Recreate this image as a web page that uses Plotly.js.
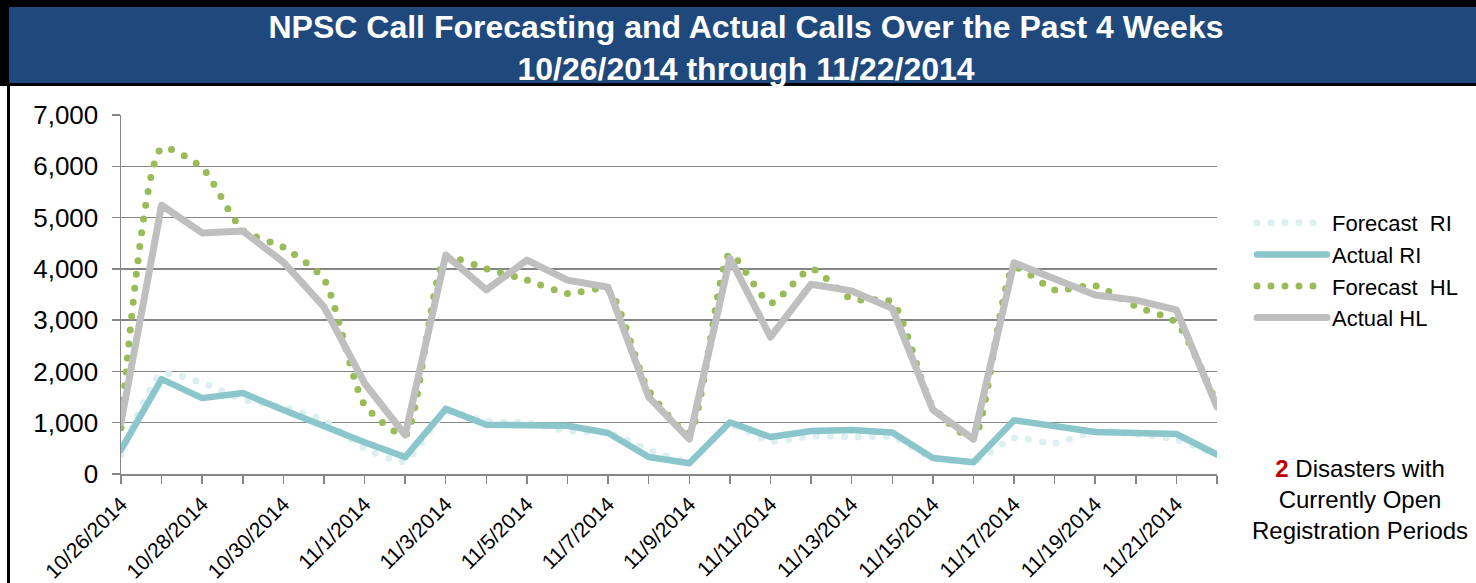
<!DOCTYPE html>
<html>
<head>
<meta charset="utf-8">
<script src="https://cdn.plot.ly/plotly-3.0.1.min.js"></script>
<style>
  html, body { margin: 0; padding: 0; background: #ffffff; }
  #chart { width: 1476px; height: 583px; }
  .js-line { stroke-linecap: round; stroke-linejoin: round; }
</style>
</head>
<body>
<div id="chart"></div>
<script>
// ---- data ----
const categories = ["10/26/2014","10/27/2014","10/28/2014","10/29/2014","10/30/2014","10/31/2014","11/1/2014",
  "11/2/2014","11/3/2014","11/4/2014","11/5/2014","11/6/2014","11/7/2014","11/8/2014",
  "11/9/2014","11/10/2014","11/11/2014","11/12/2014","11/13/2014","11/14/2014","11/15/2014",
  "11/16/2014","11/17/2014","11/18/2014","11/19/2014","11/20/2014","11/21/2014","11/22/2014"];
const forecastRI = [380, 1950, 1780, 1460, 1300, 1050, 500, 250, 1200, 1030, 1000, 840, 800, 470,
  260, 950, 640, 740, 720, 720, 320, 250, 700, 600, 830, 780, 670, 370];
const actualRI = [470, 1850, 1480, 1580, 1250, 920, 620, 330, 1270, 960, 940, 940, 800, 330,
  210, 1010, 720, 840, 860, 810, 310, 230, 1050, 920, 820, 800, 780, 380];
const forecastHL = [900, 6350, 5970, 4750, 4420, 3800, 1350, 760, 4200, 4000, 3780, 3520, 3600, 1630,
  800, 4290, 3330, 4000, 3410, 3350, 1310, 700, 4020, 3590, 3670, 3270, 2950, 1350];
const actualHL = [1000, 5240, 4700, 4740, 4130, 3260, 1770, 760, 4270, 3590, 4170, 3780, 3640, 1500,
  680, 4210, 2670, 3700, 3570, 3230, 1250, 680, 4120, 3820, 3490, 3390, 3200, 1310];
const seriesNames = ["Forecast  RI", "Actual RI", "Forecast  HL", "Actual HL"];
const yTicks = [0, 1000, 2000, 3000, 4000, 5000, 6000, 7000];
const tickLabels = categories.map((c, i) => (i % 2 === 0 ? c : ""));
const titleLines = ["NPSC Call Forecasting and Actual Calls Over the Past 4 Weeks", "10/26/2014 through 11/22/2014"];
const disastersCount = 2;

// ---- layout geometry (pixels) ----
const W = 1476, H = 583;
const L = 121, R = 1217, T = 115, B = 474;
const px = x => (x - L) / (R - L);
const py = y => (B - y) / (B - T);

const FONT = "Liberation Sans, Arial, sans-serif";

const traces = [
  { x: categories, y: forecastRI, name: seriesNames[0], type: "scatter", mode: "lines",
    line: { color: "#DCEFF1", width: 7, dash: "0px,14px", shape: "spline", smoothing: 0.6 } },
  { x: categories, y: actualRI, name: seriesNames[1], type: "scatter", mode: "lines",
    line: { color: "#8BC6CD", width: 6.5 } },
  { x: categories, y: forecastHL, name: seriesNames[2], type: "scatter", mode: "lines",
    line: { color: "#9BBB59", width: 7, dash: "0px,14px", shape: "spline", smoothing: 0.6 } },
  { x: categories, y: actualHL, name: seriesNames[3], type: "scatter", mode: "lines",
    line: { color: "#BFBFBF", width: 7 } }
];

const layout = {
  width: W, height: H,
  margin: { l: L, r: W - R, t: T, b: H - B, pad: 0 },
  paper_bgcolor: "#ffffff",
  plot_bgcolor: "rgba(0,0,0,0)",
  showlegend: true,
  title: {
    text: titleLines.join("<br>"),
    font: { family: FONT, size: 32, color: "#ffffff", weight: "bold" },
    x: 746 / W, xanchor: "center", xref: "container",
    y: 1 - 38 / H, yanchor: "middle", yref: "container"
  },
  xaxis: {
    type: "category",
    range: [0, categories.length - 1],
    tickmode: "array", tickvals: categories, ticktext: tickLabels,
    tickangle: -45,
    tickfont: { family: FONT, size: 21, color: "#000000" },
    ticks: "outside", ticklen: 8, tickwidth: 1.5, tickcolor: "#868686",
    showline: true, linecolor: "#868686", linewidth: 1.5,
    showgrid: false, zeroline: false, fixedrange: true
  },
  yaxis: {
    range: [0, 7000],
    tickmode: "array", tickvals: yTicks, ticktext: yTicks.map(v => v.toLocaleString("en-US")),
    tickfont: { family: FONT, size: 26, color: "#000000" },
    ticks: "outside", ticklen: 8, tickwidth: 1.5, tickcolor: "#868686",
    ticklabelstandoff: 8,
    showline: true, linecolor: "#868686", linewidth: 1.5,
    showgrid: true, gridcolor: "#868686", gridwidth: 1.5,
    zeroline: false, fixedrange: true
  },
  legend: {
    x: px(1252), y: py(202), xanchor: "left", yanchor: "top",
    font: { family: FONT, size: 22, color: "#000000" },
    bgcolor: "rgba(0,0,0,0)", itemwidth: 70, traceorder: "normal"
  },
  shapes: [
    { type: "rect", xref: "paper", yref: "paper", layer: "below",
      x0: px(0), x1: px(W), y0: py(0), y1: py(86), fillcolor: "#000000", line: { width: 0 } },
    { type: "rect", xref: "paper", yref: "paper", layer: "below",
      x0: px(9), x1: px(W), y0: py(7), y1: py(83), fillcolor: "#1F497D", line: { width: 0 } },
    { type: "rect", xref: "paper", yref: "paper", layer: "below",
      x0: px(7), x1: px(10), y0: py(86), y1: py(H), fillcolor: "#000000", line: { width: 0 } }
  ],
  annotations: [
    { xref: "paper", yref: "paper", x: px(1360), y: py(499), xanchor: "center", yanchor: "middle",
      showarrow: false, align: "center",
      font: { family: FONT, size: 24, color: "#000000" },
      text: "<span style='color:#C00000'><b>" + disastersCount + "</b></span> Disasters with<br>Currently Open<br>Registration Periods" }
  ]
};

Plotly.newPlot("chart", traces, layout, { displayModeBar: false, staticPlot: true });
</script>
</body>
</html>
